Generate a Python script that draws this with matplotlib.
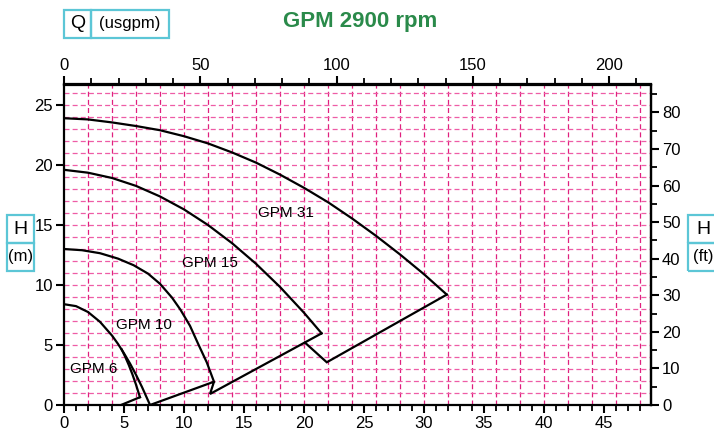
import matplotlib
matplotlib.use('agg')
import matplotlib.pyplot as plt
from matplotlib.ticker import MultipleLocator
from matplotlib.patches import Rectangle

plt.rcParams['font.family'] = ['Liberation Sans', 'DejaVu Sans']

# pump curves, Q in m3/h, H in m
gpm6_q = [0, 1, 2, 3, 4, 4.5, 5, 5.5, 6, 6.5, 7.17]
gpm6_h = [8.4, 8.24, 7.75, 6.93, 5.79, 5.09, 4.31, 3.46, 2.52, 1.5, 0]
gpm6b_q = [4.8, 5.1, 5.4, 5.7, 6.0, 6.33]
gpm6b_h = [4.64, 4.02, 3.33, 2.56, 1.7, 0.65]
gpm10_q = [0, 1.5, 3, 4.5, 5.8, 7, 8, 9, 9.7, 10.5, 11.2, 11.9, 12.5]
gpm10_h = [13.0, 12.9, 12.65, 12.2, 11.65, 10.95, 10.1, 8.95, 7.95, 6.6, 5.05, 3.55, 1.94]
gpm15_q = [0, 2, 4, 6, 8, 10, 12, 14, 16, 18, 20, 21.47]
gpm15_h = [19.6, 19.36, 18.92, 18.26, 17.38, 16.3, 15.0, 13.49, 11.77, 9.84, 7.69, 5.97]
gpm31_q = [0, 2, 4, 6, 8, 10, 12, 14, 16, 18, 20, 22, 24, 26, 28, 30, 31.9]
gpm31_h = [23.9, 23.8, 23.55, 23.25, 22.9, 22.4, 21.8, 21.05, 20.2, 19.2, 18.1,
           16.9, 15.55, 14.1, 12.55, 10.9, 9.2]

# end-of-range lines
range_lines = [
    ([4.75, 6.33], [0, 0.65]),
    ([7.17, 12.5, 12.17, 21.47], [0, 1.94, 0.92, 5.97]),
    ([20.08, 21.9, 31.9], [5.2, 3.56, 9.2]),
]

labels = ['GPM 6', 'GPM 10', 'GPM 15', 'GPM 31']
label_q = [2.44, 6.63, 12.17, 18.46]
label_h = [2.97, 6.67, 11.83, 16.0]

M3H_TO_GPM = 4.4029
M_TO_FT = 3.2808

fig = plt.figure(figsize=(7.14, 4.33), dpi=100)
ax = fig.add_axes([64 / 714, 1 - 405 / 433, (651 - 64) / 714, (405 - 84.5) / 433])
ax.set_xlim(0, 48.92)
ax.set_ylim(0, 26.71)

# grid
for x in range(2, 49, 2):
    ax.axvline(x, color='#e0207f', lw=0.9, ls=(0, (4, 2.5)), zorder=1)
for y in range(1, 27):
    ax.axhline(y, color='#ee5ca6', lw=0.9, ls=(0, (4, 2.5)), zorder=1)

lw = 1.6
for q, h in [(gpm6_q, gpm6_h), (gpm6b_q, gpm6b_h), (gpm10_q, gpm10_h),
             (gpm15_q, gpm15_h), (gpm31_q, gpm31_h)]:
    ax.plot(q, h, color='black', lw=lw, zorder=3, solid_joinstyle='round')
for q, h in range_lines:
    ax.plot(q, h, color='black', lw=lw, zorder=3, solid_joinstyle='miter')

for t, q, h in zip(labels, label_q, label_h):
    ax.text(q, h, t, fontsize=11, ha='center', va='center', zorder=4)

for s in ax.spines.values():
    s.set_linewidth(1.6)
ax.xaxis.set_major_locator(MultipleLocator(5))
ax.xaxis.set_minor_locator(MultipleLocator(1))
ax.yaxis.set_major_locator(MultipleLocator(5))
ax.yaxis.set_minor_locator(MultipleLocator(100))
ax.tick_params(which='major', direction='out', length=6, width=1.5, labelsize=12, pad=2)
ax.tick_params(which='minor', direction='out', length=4, width=1.3)

# usgpm on top
top = ax.secondary_xaxis('top', functions=(lambda q: q * M3H_TO_GPM, lambda g: g / M3H_TO_GPM))
top.xaxis.set_major_locator(MultipleLocator(50))
top.xaxis.set_minor_locator(MultipleLocator(10))
top.tick_params(which='major', direction='out', length=6, width=1.5, labelsize=12, pad=2)
top.tick_params(which='minor', direction='out', length=4, width=1.3)
top.spines['top'].set_linewidth(1.6)

# feet on right
right = ax.secondary_yaxis('right', functions=(lambda m: m * M_TO_FT, lambda f: f / M_TO_FT))
right.yaxis.set_major_locator(MultipleLocator(10))
right.yaxis.set_minor_locator(MultipleLocator(5))
right.tick_params(which='major', direction='out', length=6, width=1.5, labelsize=12, pad=2)
right.tick_params(which='minor', direction='out', length=4, width=1.3)
right.spines['right'].set_linewidth(1.6)

# title and unit boxes
fig.text(360.5 / 714, 1 - 22 / 433, 'GPM 2900 rpm', color='#2a8a4a', fontsize=16,
         fontweight='bold', ha='center', va='center')

box_col = '#5cc6d6'


def unit_box(x0, y0, w, h, text, size):
    fig.patches.append(Rectangle((x0 / 714, 1 - (y0 + h) / 433), w / 714, h / 433,
                                 transform=fig.transFigure, fill=False,
                                 edgecolor=box_col, lw=1.6))
    fig.text((x0 + w / 2) / 714, 1 - (y0 + h / 2) / 433, text, fontsize=size,
             ha='center', va='center')


unit_box(64, 9.5, 27, 28, 'Q', 14)
unit_box(91, 9.5, 78, 28, '(usgpm)', 12)
unit_box(7, 215.5, 27, 27.5, 'H', 14)
unit_box(7, 243, 27, 28, '(m)', 12)
unit_box(688, 215, 30, 28, 'H', 14)
unit_box(688, 243, 30, 28, '(ft)', 12)

fig.savefig('out.png', dpi=100)
plt.close()
